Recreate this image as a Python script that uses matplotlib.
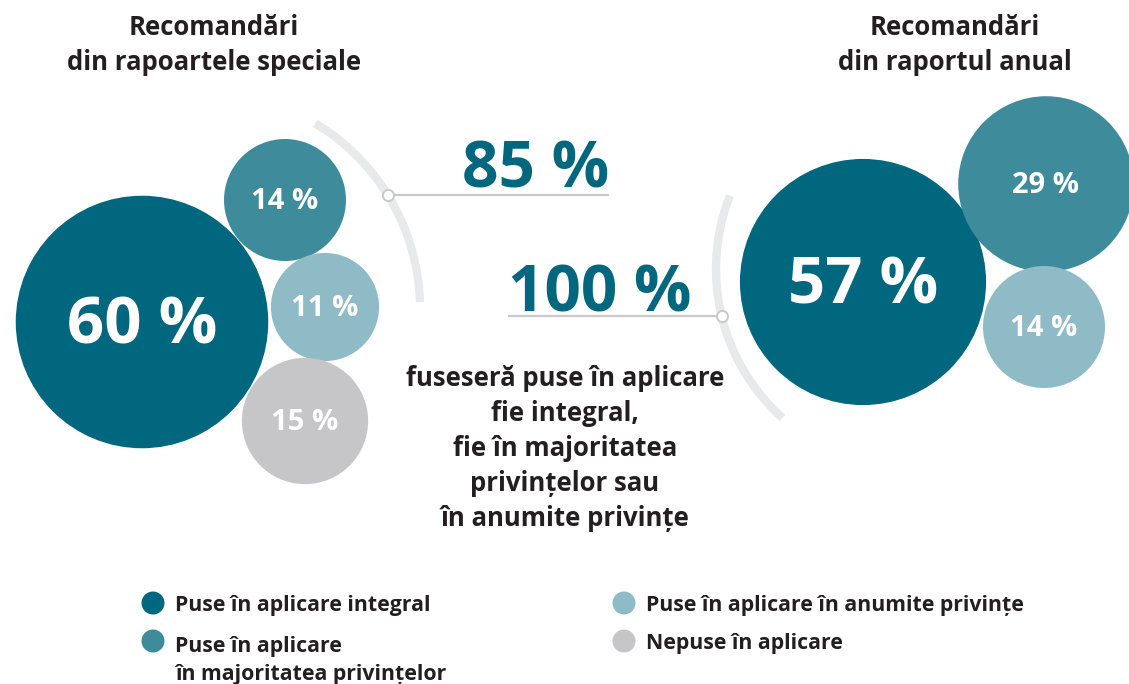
import numpy as np
import matplotlib
matplotlib.use("Agg")
import matplotlib.pyplot as plt
from matplotlib.patches import Circle

plt.rcParams['font.family'] = ['Open Sans', 'DejaVu Sans']
plt.rcParams['font.weight'] = 'bold'

# data
categories = ['Puse în aplicare integral',
              'Puse în aplicare\nîn majoritatea privințelor',
              'Puse în aplicare în anumite privințe',
              'Nepuse în aplicare']
special_values = [60, 14, 11, 15]   # rapoartele speciale
annual_values = [57, 29, 14]        # raportul anual
special_title = 'Recomandări\ndin rapoartele speciale'
annual_title = 'Recomandări\ndin raportul anual'
note = ('fuseseră puse în aplicare\nfie integral,\nfie în majoritatea\n'
        'privințelor sau\nîn anumite privințe')

colors = ['#00677E', '#3E8B9B', '#8FBBC6', '#C6C6C8']
ink = '#231F20'
arc_col = '#E8E9EA'
line_col = '#C9C9C9'

# bubble layout (centres in pixels, radius ~ sqrt(value))
k = 16.3
special_pos = [(142, 322), (285, 200), (325, 307), (305, 421)]
annual_pos = [(863, 282), (1046, 184), (1044, 327)]

fig = plt.figure(figsize=(11.29, 6.84), dpi=100)
ax = fig.add_axes([0, 0, 1, 1])
ax.set_xlim(0, 1129)
ax.set_ylim(684, 0)
ax.axis('off')


def bubbles(values, positions):
    for i, (v, (cx, cy)) in enumerate(zip(values, positions)):
        r = k * np.sqrt(v)
        ax.add_patch(Circle((cx, cy), r, color=colors[i], lw=0))
        big = i == 0
        ax.text(cx, cy + (21 if big else 9), f'{v} %', color='white',
                fontsize=47 if big else 21, ha='center', va='baseline',
                fontweight='bold')


bubbles(special_values, special_pos)
bubbles(annual_values, annual_pos)

# grey arcs with connector lines
def arc(cx, cy, r, a0, a1):
    t = np.radians(np.linspace(a0, a1, 200))
    ax.plot(cx + r * np.cos(t), cy + r * np.sin(t), color=arc_col,
            lw=6, solid_capstyle='butt', zorder=1)


arc(204, 308.5, 216, -59, -1.7)
arc(916, 269, 200, 131.9, 201.5)

ax.plot([388, 608], [195, 195], color=line_col, lw=1.6, zorder=2)
ax.plot([509, 722], [316, 316], color=line_col, lw=1.6, zorder=2)
for (px, py) in [(388, 195), (722, 316)]:
    ax.plot(px, py, 'o', ms=8, mfc='white', mec=line_col, mew=1.4, zorder=3)

share_special = sum(special_values[:3])
share_annual = sum(annual_values)
ax.text(536, 188, f'{share_special} %', color=colors[0], fontsize=46,
        ha='center', va='baseline', fontweight='bold')
ax.text(600, 312, f'{share_annual} %', color=colors[0], fontsize=46,
        ha='center', va='baseline', fontweight='bold')

# titles (baseline of the last line)
ax.text(214, 70, special_title, color=ink, fontsize=18.5, ha='center',
        va='baseline', linespacing=1.38, fontweight='bold')
ax.text(955, 70, annual_title, color=ink, fontsize=18.5, ha='center',
        va='baseline', linespacing=1.38, fontweight='bold')
ax.text(565, 526, note, color=ink, fontsize=18.5, ha='center', va='baseline',
        linespacing=1.38, fontweight='bold')

# legend
leg_pos = [(153, 603), (153, 641), (624, 603), (624, 641)]
for i, (lx, ly) in enumerate(leg_pos):
    ax.add_patch(Circle((lx, ly), 11.5, color=colors[i], lw=0))
    nlines = categories[i].count('\n')
    ax.text(lx + 22, ly + 8 + 31 * nlines, categories[i], color=ink,
            fontsize=15.3, ha='left', va='baseline', linespacing=1.45,
            fontweight='bold')

fig.savefig('out.png', dpi=100, facecolor='white')
